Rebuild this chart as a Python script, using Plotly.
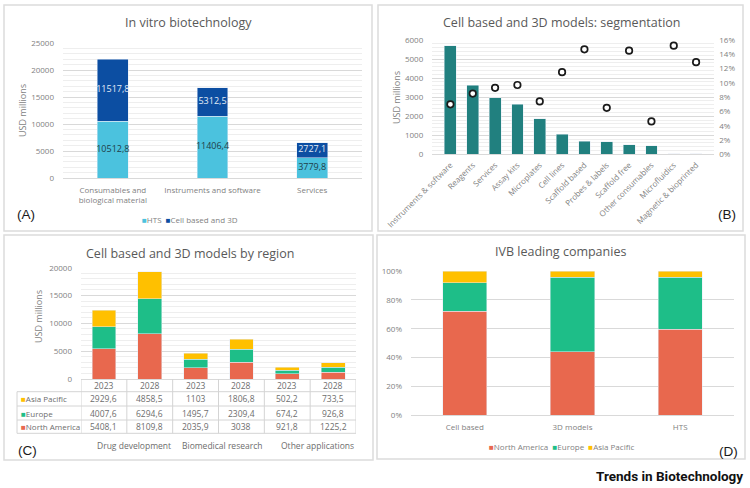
import plotly.graph_objects as go

W, H = 750, 488


def px(x):
    return x / W


def py(y):
    return 1 - y / H


def fmt(v):
    return f"{v:g}".replace(".", ",")


# ---------------- data ----------------
# Panel A
a_categories = ["Consumables and<br>biological material", "Instruments and software", "Services"]
a_series = ["HTS", "Cell based and 3D"]
a_hts = [10512.8, 11406.4, 3779.8]
a_cell3d = [11517.8, 5312.5, 2727.1]

# Panel B
b_categories = ["Instruments & software", "Reagents", "Services", "Assay kits", "Microplates",
                "Cell lines", "Scaffold based", "Probes & labels", "Scaffold free",
                "Other consumables", "Microfluidics", "Magnetic & bioprinted"]
b_values = [5700, 3620, 2980, 2630, 1860, 1040, 690, 650, 510, 460, 40, 35]
b_growth = [0.070, 0.085, 0.093, 0.097, 0.074, 0.115, 0.147, 0.065, 0.145, 0.046, 0.152, 0.129]

# Panel C
c_groups = ["Drug development", "Biomedical research", "Other applications"]
c_years = ["2023", "2028"]
c_series = ["Asia Pacific", "Europe", "North America"]
c_asia = [2929.6, 4858.5, 1103, 1806.8, 502.2, 733.5]
c_europe = [4007.6, 6294.6, 1495.7, 2309.4, 674.2, 926.8]
c_na = [5408.1, 8109.8, 2035.9, 3038, 921.8, 1225.2]

# Panel D
d_categories = ["Cell based", "3D models", "HTS"]
d_series = ["North America", "Europe", "Asia Pacific"]
d_na = [0.72, 0.44, 0.595]
d_europe = [0.20, 0.515, 0.36]
d_asia = [0.08, 0.045, 0.045]

# ---------------- styles ----------------
FONT = "Open Sans, Lato, sans-serif"
TICK = "#7f7f7f"
TITLE = "#595959"
GRID = "#d9d9d9"
MINOR = "#eeeeee"
C_HTS = "#4BC2DE"
C_C3D = "#0C4EA2"
C_TEAL = "#21807F"
C_NA = "#E8684E"
C_EU = "#1EBE88"
C_AP = "#FFC000"

fig = go.Figure()

# Panel A
fig.add_bar(x=a_categories, y=a_hts, name=a_series[0], marker_color=C_HTS, width=0.31,
            xaxis="x", yaxis="y")
fig.add_bar(x=a_categories, y=a_cell3d, name=a_series[1], marker_color=C_C3D, width=0.31,
            xaxis="x", yaxis="y")
# value labels centred in each stacked segment
fig.add_scatter(x=a_categories, y=[v / 2 for v in a_hts], mode="text",
                text=[fmt(v) for v in a_hts],
                textfont=dict(color="#1f3d48", size=9, family=FONT), xaxis="x", yaxis="y")
fig.add_scatter(x=a_categories, y=[h + v / 2 for h, v in zip(a_hts, a_cell3d)], mode="text",
                text=[fmt(v) for v in a_cell3d],
                textfont=dict(color="#e4ecf6", size=9, family=FONT), xaxis="x", yaxis="y")

# Panel B
fig.add_bar(x=b_categories, y=b_values, marker_color=C_TEAL, width=0.53, xaxis="x2", yaxis="y2")
fig.add_scatter(x=b_categories, y=b_growth, mode="markers",
                marker=dict(symbol="circle", size=6.5, color="white",
                            line=dict(color="#1a1a1a", width=1.7)),
                xaxis="x2", yaxis="y3")

# Panel C
c_x = [f"{g} {y}" for g in c_groups for y in c_years]
for name, vals, col in [("North America", c_na, C_NA), ("Europe", c_europe, C_EU),
                        ("Asia Pacific", c_asia, C_AP)]:
    fig.add_bar(x=c_x, y=vals, name=name, marker_color=col, width=0.52, xaxis="x3", yaxis="y4")

# Panel D
for name, vals, col in [(d_series[0], d_na, C_NA), (d_series[1], d_europe, C_EU),
                        (d_series[2], d_asia, C_AP)]:
    fig.add_bar(x=d_categories, y=vals, name=name, marker_color=col, width=0.41,
                xaxis="x4", yaxis="y5")

tickf = dict(size=8, color=TICK, family=FONT)

fig.update_layout(
    width=W, height=H, autosize=False,
    margin=dict(l=0, r=0, t=0, b=0),
    paper_bgcolor="white", plot_bgcolor="rgba(0,0,0,0)",
    barmode="stack", showlegend=False,
    font=dict(family=FONT, color=TICK),
    # Panel A
    xaxis=dict(domain=[px(63), px(362)], anchor="y", showgrid=False, showline=True,
               linecolor=GRID, linewidth=1, ticks="", tickfont=tickf, automargin=False,
               ticklabelstandoff=4),
    yaxis=dict(domain=[py(178), py(43)], anchor="x", range=[0, 25000], dtick=5000,
               gridcolor=GRID, gridwidth=1, zeroline=False, tickfont=tickf, automargin=False,
               ticklabelstandoff=8, tickformat="d",
               minor=dict(dtick=1000, showgrid=True, gridcolor=MINOR, gridwidth=1)),
    # Panel B
    xaxis2=dict(domain=[px(432.25), px(714.25)], anchor="y2", showgrid=False, showline=True,
                linecolor=GRID, ticks="", tickangle=-45, tickfont=tickf, automargin=False,
                ticklabelstandoff=2),
    yaxis2=dict(domain=[py(154.3), py(40)], anchor="x2", range=[0, 6000], dtick=1000,
                gridcolor=GRID, zeroline=False, tickfont=tickf, automargin=False,
                ticklabelstandoff=8, tickformat="d",
                minor=dict(dtick=200, showgrid=True, gridcolor=MINOR)),
    yaxis3=dict(overlaying="y2", anchor="x2", side="right", range=[0, 0.16], dtick=0.02,
                tickformat=".0%", showgrid=False, zeroline=False, tickfont=tickf,
                automargin=False, ticklabelstandoff=4),
    # Panel C
    xaxis3=dict(domain=[px(81), px(356)], anchor="y4", showgrid=False, showline=True,
                linecolor=GRID, ticks="", showticklabels=False, automargin=False,
                range=[-0.5, 5.5]),
    yaxis4=dict(domain=[py(379), py(267.7)], anchor="x3", range=[0, 20000], dtick=5000,
                gridcolor=GRID, zeroline=False, tickfont=tickf, automargin=False,
                ticklabelstandoff=8, tickformat="d",
                minor=dict(dtick=1000, showgrid=True, gridcolor=MINOR)),
    # Panel D
    xaxis4=dict(domain=[px(411), px(734)], anchor="y5", showgrid=False, showline=True,
                linecolor=GRID, ticks="", tickfont=tickf, automargin=False,
                ticklabelstandoff=4),
    yaxis5=dict(domain=[py(415.3), py(271)], anchor="x4", range=[0, 1], dtick=0.2,
                tickformat=".0%", gridcolor=GRID, zeroline=False, tickfont=tickf,
                automargin=False, ticklabelstandoff=8),
)

ann = []
shapes = []


def text(x, y, t, size=8, color=TICK, xanchor="center", yanchor="middle", family=FONT,
         xref="paper", angle=0, weight=None):
    f = dict(size=size, color=color, family=family)
    if weight:
        f["weight"] = weight
    ann.append(dict(x=x, y=y, xref=xref, yref="paper", text=t, showarrow=False,
                    xanchor=xanchor, yanchor=yanchor, font=f, textangle=angle))


# panel borders
for x0, y0, x1, y1 in [(4, 5, 372, 231), (378, 5, 743, 231), (4, 235, 373, 460),
                       (377, 235, 745, 459)]:
    shapes.append(dict(type="rect", xref="paper", yref="paper", x0=px(x0), x1=px(x1),
                       y0=py(y1), y1=py(y0), line=dict(color="#dcdcdc", width=1.5)))

# titles
text(px(188), py(23), "In vitro biotechnology", size=12.5, color=TITLE)
text(px(562), py(23), "Cell based and 3D models: segmentation", size=12.5, color=TITLE)
text(px(190), py(254), "Cell based and 3D models by region", size=12.5, color=TITLE)
text(px(560), py(251), "IVB leading companies", size=12.5, color=TITLE)

# axis titles
text(px(22), py(111), "USD millions", size=9, color=TICK, angle=-90)
text(px(397), py(98), "USD millions", size=9, color=TICK, angle=-90)
text(px(38), py(317), "USD millions", size=9, color=TICK, angle=-90)

# panel letters
PL = dict(size=13.5, color="#1a1a1a", family="Liberation Sans, Arial, sans-serif")
text(px(15), py(214), "(A)", xanchor="left", **PL)
text(px(738), py(214), "(B)", xanchor="right", **PL)
text(px(16), py(450), "(C)", xanchor="left", **PL)
text(px(740), py(451), "(D)", xanchor="right", **PL)

# legends
sq = lambda c: f"<span style='color:{c}'>■</span>"
text(px(190), py(220), f"{sq(C_HTS)}{a_series[0]}&nbsp;&nbsp;{sq(C_C3D)}{a_series[1]}", size=8)
text(px(561), py(446),
     f"{sq(C_NA)}{d_series[0]}&nbsp;&nbsp;{sq(C_EU)}{d_series[1]}&nbsp;&nbsp;{sq(C_AP)}{d_series[2]}",
     size=8)

# Panel C data table
row_y = {"hdr": 385.3, "Asia Pacific": 398.8, "Europe": 413, "North America": 426.7}
row_vals = {"Asia Pacific": c_asia, "Europe": c_europe, "North America": c_na}
row_col = {"Asia Pacific": C_AP, "Europe": C_EU, "North America": C_NA}
TBL = "#d4d4d4"
TXT = "#6d6d6d"
for i, cat in enumerate(c_x):
    text(i, py(row_y["hdr"]), c_years[i % 2], size=8.5, color=TXT, xref="x3")
    for r in c_series:
        text(i, py(row_y[r]), fmt(row_vals[r][i]), size=8.5, color=TXT, xref="x3")
for r in c_series:
    text(px(19), py(row_y[r]), f"{sq(row_col[r])}{r}", size=8, color=TXT, xanchor="left")

for yy in [391.7, 406, 420, 433.3]:
    shapes.append(dict(type="line", xref="paper", yref="paper", x0=px(17), x1=px(356),
                       y0=py(yy), y1=py(yy), line=dict(color=TBL, width=1)))
shapes.append(dict(type="line", xref="paper", yref="paper", x0=px(17), x1=px(17),
                   y0=py(391.7), y1=py(433.3), line=dict(color=TBL, width=1)))
for k in range(len(c_x) + 1):
    shapes.append(dict(type="line", xref="x3", yref="paper", x0=k - 0.5, x1=k - 0.5,
                       y0=py(379), y1=py(433.3), line=dict(color=TBL, width=1)))

# group labels (right aligned to group boundary)
for gi, g in enumerate(c_groups):
    text(gi * 2 + 1.5, py(445), g, size=8.5, color=TXT, xanchor="right", xref="x3")

# journal mark
text(px(745), py(476), "Trends in Biotechnology", size=13.5, color="#111111",
     xanchor="right", family="Liberation Sans Narrow, Roboto, Arial, sans-serif", weight="bold")

fig.update_layout(annotations=ann, shapes=shapes)
fig.write_html("out.html")
